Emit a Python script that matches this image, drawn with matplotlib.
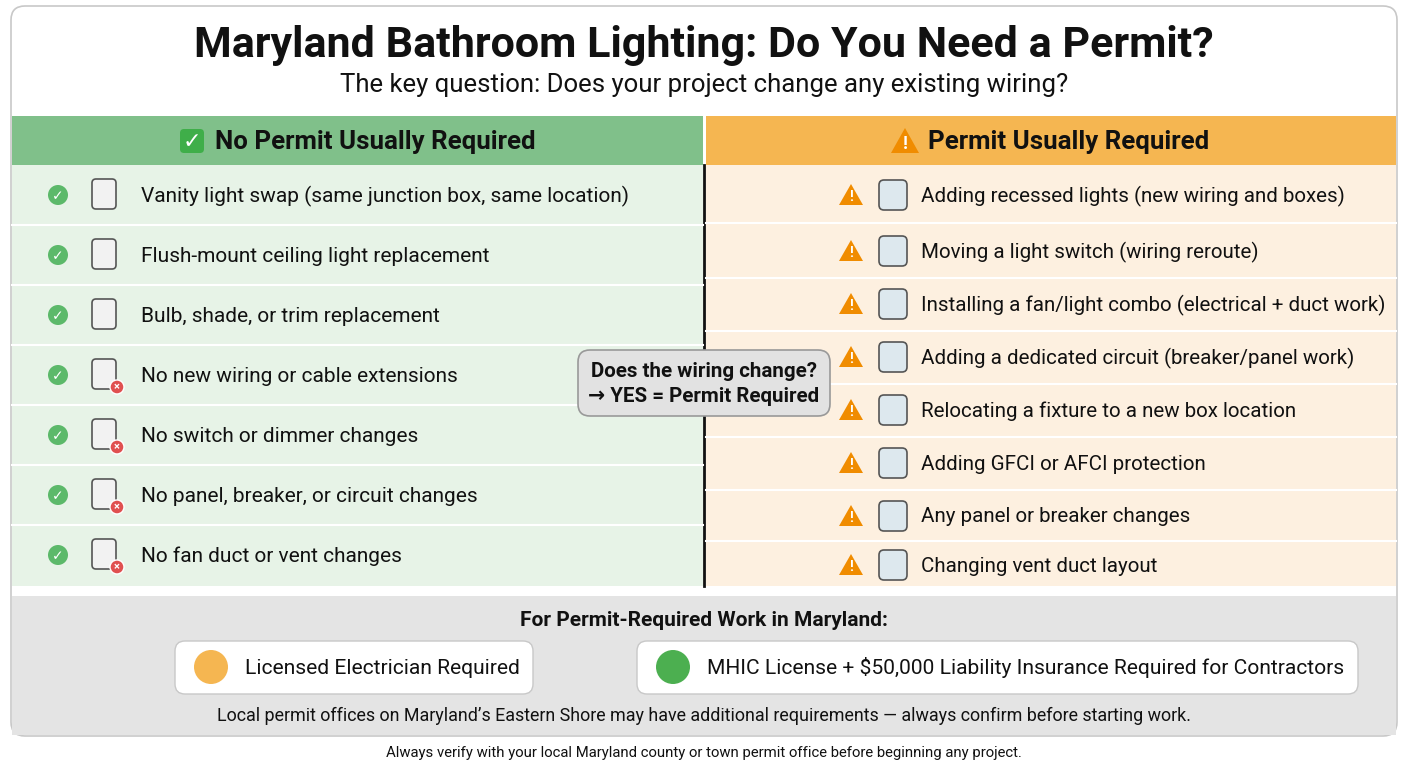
import matplotlib.pyplot as plt
from matplotlib.patches import FancyBboxPatch, Rectangle, Circle, Polygon

title = "Maryland Bathroom Lighting: Do You Need a Permit?"
subtitle = "The key question: Does your project change any existing wiring?"
left_head = "No Permit Usually Required"
right_head = "Permit Usually Required"
left_items = [
    "Vanity light swap (same junction box, same location)",
    "Flush-mount ceiling light replacement",
    "Bulb, shade, or trim replacement",
    "No new wiring or cable extensions",
    "No switch or dimmer changes",
    "No panel, breaker, or circuit changes",
    "No fan duct or vent changes",
]
left_cross = [False, False, False, True, True, True, True]
right_items = [
    "Adding recessed lights (new wiring and boxes)",
    "Moving a light switch (wiring reroute)",
    "Installing a fan/light combo (electrical + duct work)",
    "Adding a dedicated circuit (breaker/panel work)",
    "Relocating a fixture to a new box location",
    "Adding GFCI or AFCI protection",
    "Any panel or breaker changes",
    "Changing vent duct layout",
]
callout = "Does the wiring change?\n\u2192 YES = Permit Required"
bottom_head = "For Permit-Required Work in Maryland:"
req_boxes = ["Licensed Electrician Required",
             "MHIC License + $50,000 Liability Insurance Required for Contractors"]
note = "Local permit offices on Maryland\u2019s Eastern Shore may have additional requirements \u2014 always confirm before starting work."
footer = "Always verify with your local Maryland county or town permit office before beginning any project."

plt.rcParams['font.family'] = ['Roboto', 'DejaVu Sans']
fig = plt.figure(figsize=(14.08, 7.68), dpi=100)
ax = fig.add_axes([0, 0, 1, 1])
ax.set_xlim(0, 1408)
ax.set_ylim(768, 0)
ax.axis('off')

# outer frame
ax.add_patch(FancyBboxPatch((11, 6), 1386, 730, boxstyle="round,pad=0,rounding_size=14",
                            fc='white', ec='#c8c8c8', lw=1.2))
ax.text(704, 46, title, ha='center', va='center', fontsize=31, fontweight='bold', color='#111')
ax.text(704, 85, subtitle, ha='center', va='center', fontsize=18.5, color='#111')

# headers
ax.add_patch(Rectangle((12, 116), 691, 49, fc='#80c08a', ec='none'))
ax.add_patch(Rectangle((706, 116), 690, 49, fc='#f5b651', ec='none'))
ax.add_patch(FancyBboxPatch((180, 129), 24, 24, boxstyle="round,pad=0,rounding_size=4", fc='#3fae49', ec='none'))
ax.text(192, 142, "\u2713", ha='center', va='center', color='white', fontsize=16, fontweight='bold',
        family='DejaVu Sans')
ax.text(215, 142, left_head, ha='left', va='center', fontsize=18.6, fontweight='bold', color='#111')
ax.add_patch(Polygon([[905, 128], [891, 153], [919, 153]], closed=True, fc='#f08c00', ec='none'))
ax.text(905, 144, "!", ha='center', va='center', color='white', fontsize=13, fontweight='bold')
ax.text(928, 142, right_head, ha='left', va='center', fontsize=18.6, fontweight='bold', color='#111')

# bodies
ax.add_patch(Rectangle((12, 165), 691, 421, fc='#e7f3e7', ec='none'))
ax.add_patch(Rectangle((706, 165), 690, 421, fc='#fdf0e0', ec='none'))
ax.plot([704, 704], [165, 586], color='#111', lw=2)

lrow = 60
for i, (txt, cr) in enumerate(zip(left_items, left_cross)):
    y = 195 + i * lrow
    if i > 0:
        ax.plot([12, 703], [y - lrow / 2] * 2, color='white', lw=1.5)
    ax.add_patch(Circle((58, y), 10, fc='#5cb96a', ec='none'))
    ax.text(58, y + 1, "\u2713", ha='center', va='center', color='white', fontsize=10, fontweight='bold',
            family='DejaVu Sans')
    ax.add_patch(FancyBboxPatch((92, y - 16), 24, 30, boxstyle="round,pad=0,rounding_size=4",
                                fc='#f2f2f2', ec='#555', lw=1.2))
    if cr:
        ax.add_patch(Circle((117, y + 12), 7, fc='#e05050', ec='white', lw=1))
        ax.text(117, y + 12, "\u00d7", ha='center', va='center', color='white', fontsize=8, fontweight='bold')
    ax.text(141, y + 1, txt, ha='left', va='center', fontsize=15, color='#111')

rys = [195, 251, 304, 357, 410, 463, 516, 565]
for i, (txt, y) in enumerate(zip(right_items, rys)):
    if i > 0:
        ax.plot([706, 1396], [(y + rys[i - 1]) / 2] * 2, color='white', lw=1.5)
    ax.add_patch(Polygon([[851, y - 11], [839, y + 10], [863, y + 10]], closed=True, fc='#f08c00', ec='none'))
    ax.text(851, y + 2, "!", ha='center', va='center', color='white', fontsize=10, fontweight='bold')
    ax.add_patch(FancyBboxPatch((879, y - 15), 28, 30, boxstyle="round,pad=0,rounding_size=5",
                                fc='#dde8ee', ec='#555', lw=1.2))
    ax.text(921, y + 1, txt, ha='left', va='center', fontsize=14.8, color='#111')

# callout
ax.add_patch(FancyBboxPatch((578, 350), 252, 66, boxstyle="round,pad=0,rounding_size=12",
                            fc='#e2e2e2', ec='#999', lw=1.2, zorder=5))
ax.text(704, 384, callout, ha='center', va='center', fontsize=14.8, fontweight='bold',
        color='#111', linespacing=1.35, zorder=6)

# bottom section
ax.add_patch(Rectangle((12, 596), 1384, 139, fc='#e4e4e4', ec='none'))
ax.text(704, 620, bottom_head, ha='center', va='center', fontsize=15, fontweight='bold', color='#111')
for (x0, x1), txt in zip([(175, 533), (637, 1358)], req_boxes):
    ax.add_patch(FancyBboxPatch((x0, 641), x1 - x0, 53, boxstyle="round,pad=0,rounding_size=10",
                                fc='white', ec='#c8c8c8', lw=1))
    ax.add_patch(Circle((x0 + 36, 667), 17, fc='#4caf50' if x0 > 600 else '#f5b651', ec='none'))
    ax.text(x0 + 70, 668, txt, ha='left', va='center', fontsize=15.1, color='#111')
ax.text(704, 716, note, ha='center', va='center', fontsize=12.9, color='#111')
ax.text(704, 753, footer, ha='center', va='center', fontsize=10.7, color='#111')

fig.savefig('out.png', dpi=100)
